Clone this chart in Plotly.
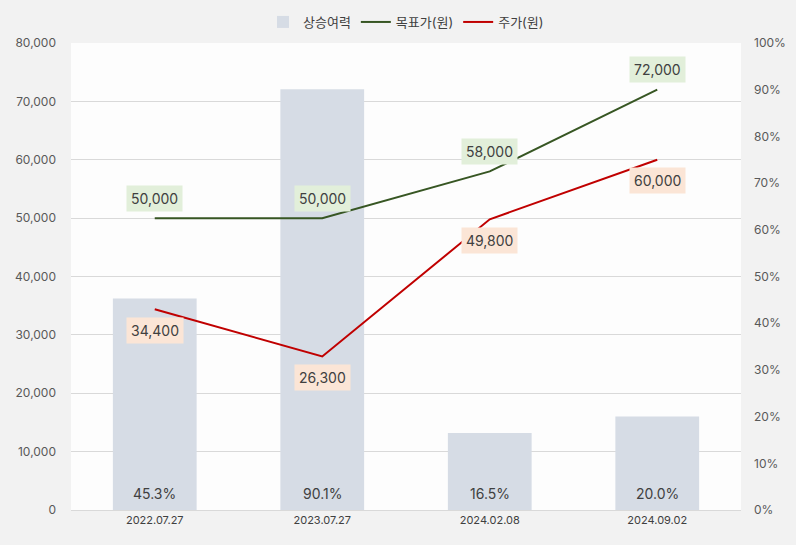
import plotly.graph_objects as go

categories = ["2022.07.27", "2023.07.27", "2024.02.08", "2024.09.02"]
upside = [45.3, 90.1, 16.5, 20.0]
target_price = [50000, 50000, 58000, 72000]
stock_price = [34400, 26300, 49800, 60000]
left_ticks = [0, 10000, 20000, 30000, 40000, 50000, 60000, 70000, 80000]
right_ticks = [0, 10, 20, 30, 40, 50, 60, 70, 80, 90, 100]

FONT = "Inter, Noto Sans CJK KR"

fig = go.Figure()
fig.add_trace(go.Bar(
    x=categories, y=upside, name="상승여력", yaxis="y",
    marker=dict(color="#d6dce5", line=dict(width=0)), width=0.5,
    hoverinfo="skip",
))
fig.add_trace(go.Scatter(
    x=categories, y=target_price, name="목표가(원)", mode="lines", yaxis="y2",
    line=dict(color="#375623", width=2),
))
fig.add_trace(go.Scatter(
    x=categories, y=stock_price, name="주가(원)", mode="lines", yaxis="y2",
    line=dict(color="#c00000", width=2),
))

label_font = dict(size=14, color="#404040", family=FONT)
annotations = []
for c, v in zip(categories, upside):
    annotations.append(dict(x=c, y=0, xref="x", yref="y", text=f"{v:.1f}%", showarrow=False,
                            yshift=17, font=label_font))
for c, v in zip(categories, target_price):
    annotations.append(dict(x=c, y=v, xref="x", yref="y2", text=f"{v:,}", showarrow=False,
                            yshift=20, bgcolor="#e2efda", borderpad=4, font=label_font))
for c, v in zip(categories, stock_price):
    annotations.append(dict(x=c, y=v, xref="x", yref="y2", text=f"{v:,}", showarrow=False,
                            yshift=-21, bgcolor="#fbe5d6", borderpad=4, font=label_font))

fig.update_layout(
    width=796, height=545,
    margin=dict(l=71, r=55, t=43, b=35, autoexpand=False),
    paper_bgcolor="#f2f2f2", plot_bgcolor="#fdfdfd",
    font=dict(family=FONT, size=12, color="#595959"),
    showlegend=True,
    legend=dict(orientation="h", x=0.5, xanchor="center", yref="container",
                y=(545 - 22) / 545, yanchor="middle",
                font=dict(size=13, color="#404040"),
                bgcolor="rgba(0,0,0,0)", traceorder="normal"),
    xaxis=dict(type="category", showgrid=False, showline=True, linecolor="#d9d9d9",
               ticks="", tickfont=dict(size=11, color="#404040")),
    yaxis=dict(range=[0, 100], tickvals=right_ticks, ticktext=[f"{t}%" for t in right_ticks],
               side="right", showgrid=False, zeroline=False, ticks="",
               ticklabelstandoff=12, tickfont=dict(size=12, color="#595959")),
    yaxis2=dict(range=[0, 80000], tickvals=left_ticks, ticktext=[f"{t:,}" for t in left_ticks],
                overlaying="y", side="left", showgrid=True,
                gridcolor="#d9d9d9", zeroline=False, ticks="", ticklabelstandoff=14,
                tickfont=dict(size=12, color="#595959")),
    annotations=annotations,
)

fig.write_html("out.html")
